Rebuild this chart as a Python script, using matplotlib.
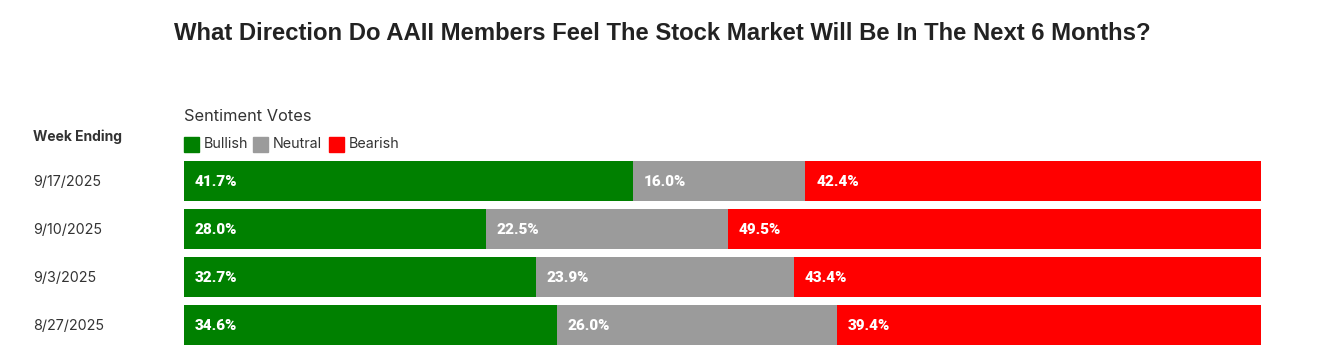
import matplotlib
matplotlib.use("Agg")
import matplotlib.pyplot as plt
from matplotlib.patches import Rectangle

weeks = ["9/17/2025", "9/10/2025", "9/3/2025", "8/27/2025"]
bullish = [41.7, 28.0, 32.7, 34.6]
neutral = [16.0, 22.5, 23.9, 26.0]
bearish = [42.4, 49.5, 43.4, 39.4]
series_names = ["Bullish", "Neutral", "Bearish"]
colors = ["#008000", "#9b9b9b", "#ff0000"]

W, H = 1324, 357
fig = plt.figure(figsize=(W / 100, H / 100), dpi=100)

def fx(px):
    return px / W

def fy(py):
    return 1 - py / H

ax = fig.add_axes([fx(184), fy(349), fx(1261) - fx(184), fy(157) - fy(349)])
ypos = list(range(len(weeks)))
left = [0] * len(weeks)
for name, vals, c in zip(series_names, [bullish, neutral, bearish], colors):
    ax.barh(ypos, vals, left=left, height=40 / 48, color=c, edgecolor="none")
    for y, l, v in zip(ypos, left, vals):
        ax.text(l + 1.0, y + 0.02, f"{v:.1f}%", color="white", fontsize=11, fontweight="heavy",
                family=["Roboto", "DejaVu Sans"], va="center", ha="left")
    left = [a + b for a, b in zip(left, vals)]
ax.set_xlim(0, 100)
ax.set_ylim(len(weeks) - 0.5, -0.5)
ax.axis("off")

fig.text(0.5, fy(33), "What Direction Do AAII Members Feel The Stock Market Will Be In The Next 6 Months?",
         ha="center", va="center", fontsize=17.2, fontweight="bold", color="#222222",
         family="Liberation Sans")
fig.text(fx(33), fy(137), "Week Ending", ha="left", va="center", fontsize=10, fontweight="bold",
         color="#333333", family="Inter")
for i, w in enumerate(weeks):
    fig.text(fx(33), fy(182 + 48 * i), w, ha="left", va="center", fontsize=10.3,
             color="#333333", family="Inter")
fig.text(fx(184), fy(117), "Sentiment Votes", ha="left", va="center", fontsize=11.8,
         color="#333333", family="Inter")

lx = [184, 253, 329]
for x, name, c in zip(lx, series_names, colors):
    fig.patches.append(Rectangle((fx(x), fy(152)), fx(15), fy(137) - fy(152),
                                 transform=fig.transFigure, color=c, figure=fig))
    fig.text(fx(x + 20), fy(144), name, ha="left", va="center", fontsize=10.3,
             color="#333333", family="Inter")

fig.savefig("out.png", dpi=100)
